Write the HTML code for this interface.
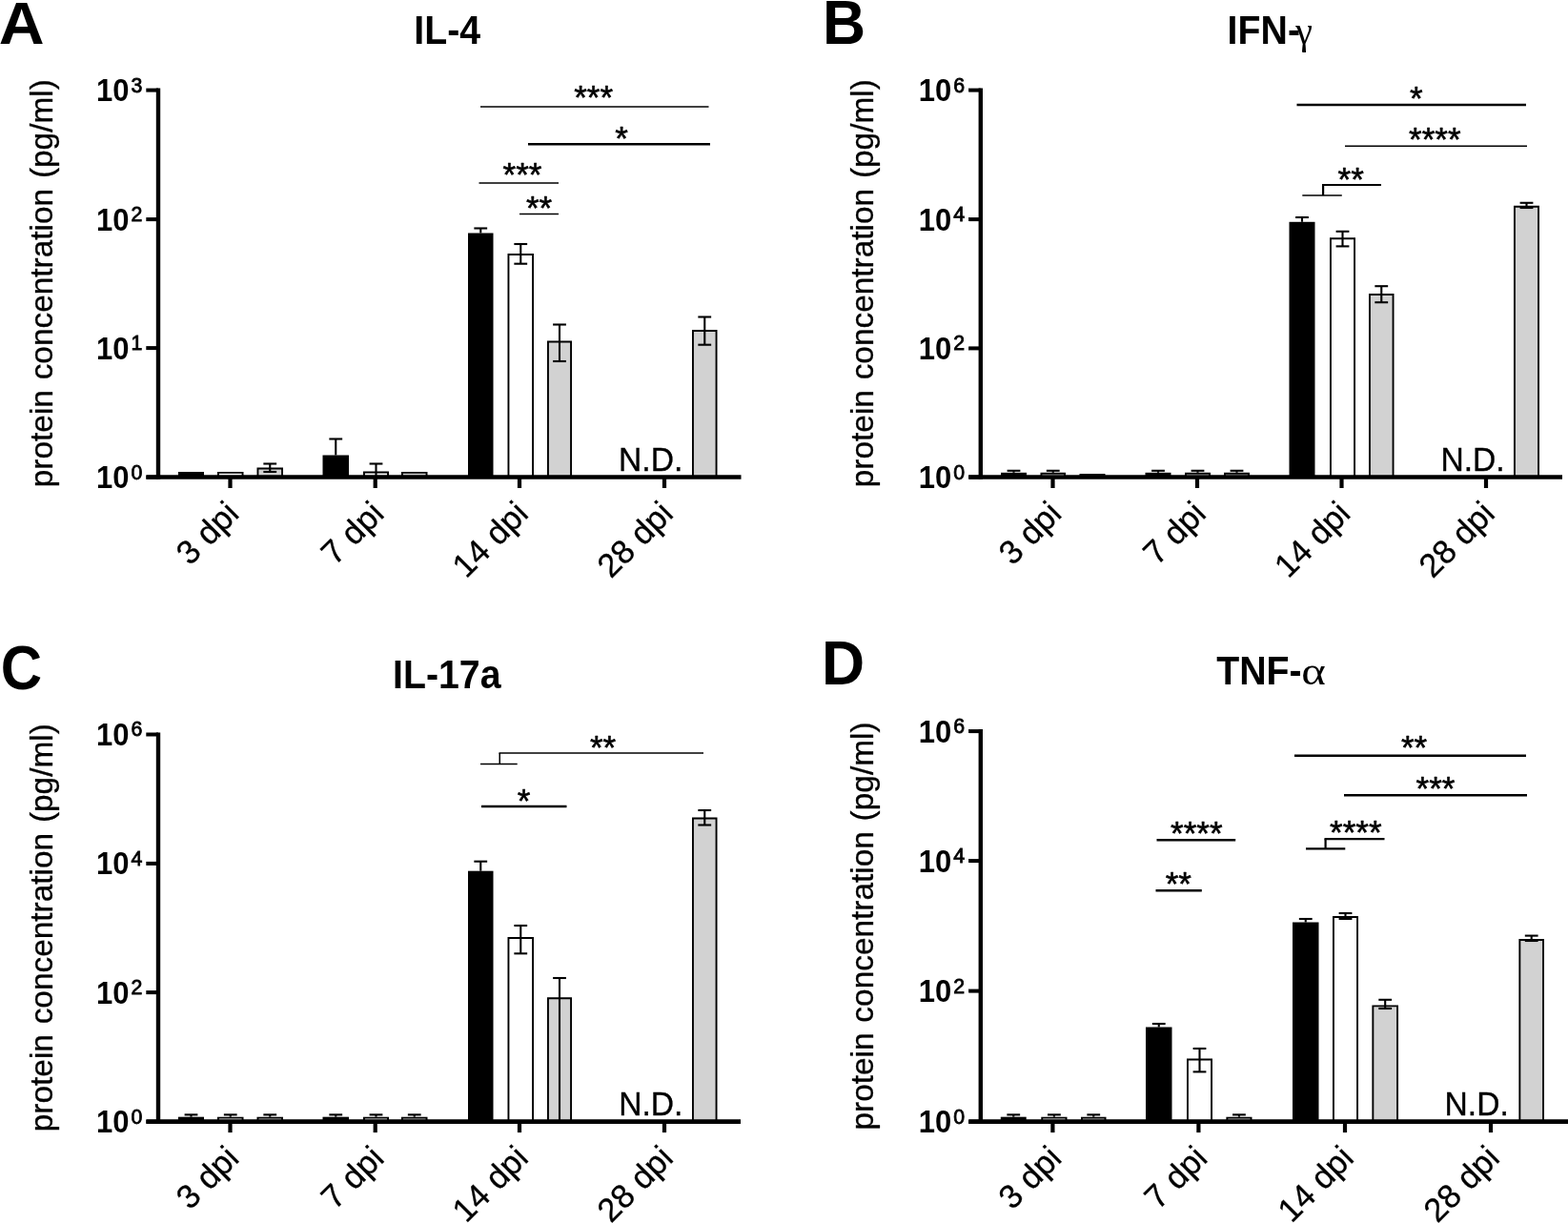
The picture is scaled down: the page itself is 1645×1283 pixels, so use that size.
<!DOCTYPE html>
<html lang="en"><head><meta charset="utf-8"><title>Cytokine protein concentrations</title>
<style>html,body{margin:0;padding:0;background:#fff}body{width:1645px;height:1283px;overflow:hidden}svg{display:block}text{fill:#000}</style>
</head><body>
<svg width="1645" height="1283" viewBox="0 0 1645 1283" font-family='"Liberation Sans", Arial, Helvetica, sans-serif'>
<rect width="1645" height="1283" fill="#fff"/>
<g id="panelA">
<text transform="translate(-1.3,45.8) scale(1.06,1.02)" font-size="62.5" font-weight="700" text-anchor="start">A</text>
<text transform="translate(469.2,45.8) scale(1,1.065)" font-size="39.3" font-weight="700" text-anchor="middle">IL-4</text>
<rect x="187" y="495" width="27" height="5.5" fill="#000"/>
<path d="M228.95 500.5V495.85H254.55V500.5" fill="#fff" stroke="#000" stroke-width="1.9" stroke-linejoin="miter"/>
<path d="M270.45 500.5V491.45H296.05V500.5" fill="#d2d2d2" stroke="#000" stroke-width="1.9" stroke-linejoin="miter"/>
<line x1="283.25" y1="486.5" x2="283.25" y2="495" stroke="#000" stroke-width="2.1" stroke-linecap="butt"/>
<line x1="276.35" y1="486.5" x2="290.15" y2="486.5" stroke="#000" stroke-width="2.1" stroke-linecap="butt"/>
<line x1="276.35" y1="495" x2="290.15" y2="495" stroke="#000" stroke-width="2.1" stroke-linecap="butt"/>
<rect x="338.5" y="477.5" width="27.5" height="23" fill="#000"/>
<line x1="352.25" y1="460.5" x2="352.25" y2="477.5" stroke="#000" stroke-width="2.1" stroke-linecap="butt"/>
<line x1="345.35" y1="460.5" x2="359.15" y2="460.5" stroke="#000" stroke-width="2.1" stroke-linecap="butt"/>
<path d="M381.95 500.5V495.45H407.05V500.5" fill="#fff" stroke="#000" stroke-width="1.9" stroke-linejoin="miter"/>
<line x1="394.5" y1="486.5" x2="394.5" y2="500" stroke="#000" stroke-width="2.1" stroke-linecap="butt"/>
<line x1="387.6" y1="486.5" x2="401.4" y2="486.5" stroke="#000" stroke-width="2.1" stroke-linecap="butt"/>
<path d="M421.95 500.5V495.85H447.55V500.5" fill="#d2d2d2" stroke="#000" stroke-width="1.9" stroke-linejoin="miter"/>
<rect x="491" y="244.5" width="26.5" height="256" fill="#000"/>
<line x1="504.25" y1="239.5" x2="504.25" y2="244.5" stroke="#000" stroke-width="2.1" stroke-linecap="butt"/>
<line x1="497.35" y1="239.5" x2="511.15" y2="239.5" stroke="#000" stroke-width="2.1" stroke-linecap="butt"/>
<path d="M533.45 500.5V266.95H559.05V500.5" fill="#fff" stroke="#000" stroke-width="1.9" stroke-linejoin="miter"/>
<line x1="546.25" y1="256" x2="546.25" y2="276.7" stroke="#000" stroke-width="2.1" stroke-linecap="butt"/>
<line x1="539.35" y1="256" x2="553.15" y2="256" stroke="#000" stroke-width="2.1" stroke-linecap="butt"/>
<line x1="539.35" y1="276.7" x2="553.15" y2="276.7" stroke="#000" stroke-width="2.1" stroke-linecap="butt"/>
<path d="M574.95 500.5V358.45H599.05V500.5" fill="#d2d2d2" stroke="#000" stroke-width="1.9" stroke-linejoin="miter"/>
<line x1="587" y1="340.5" x2="587" y2="379" stroke="#000" stroke-width="2.1" stroke-linecap="butt"/>
<line x1="580.1" y1="340.5" x2="593.9" y2="340.5" stroke="#000" stroke-width="2.1" stroke-linecap="butt"/>
<line x1="580.1" y1="379" x2="593.9" y2="379" stroke="#000" stroke-width="2.1" stroke-linecap="butt"/>
<path d="M726.95 500.5V346.95H751.55V500.5" fill="#d2d2d2" stroke="#000" stroke-width="1.9" stroke-linejoin="miter"/>
<line x1="739.25" y1="332.5" x2="739.25" y2="361.7" stroke="#000" stroke-width="2.1" stroke-linecap="butt"/>
<line x1="732.35" y1="332.5" x2="746.15" y2="332.5" stroke="#000" stroke-width="2.1" stroke-linecap="butt"/>
<line x1="732.35" y1="361.7" x2="746.15" y2="361.7" stroke="#000" stroke-width="2.1" stroke-linecap="butt"/>
<line x1="166" y1="92.6" x2="166" y2="502.75" stroke="#000" stroke-width="4.4" stroke-linecap="butt"/>
<line x1="153.3" y1="94.6" x2="166" y2="94.6" stroke="#000" stroke-width="4" stroke-linecap="butt"/>
<line x1="153.3" y1="230.1" x2="166" y2="230.1" stroke="#000" stroke-width="4" stroke-linecap="butt"/>
<line x1="153.3" y1="365.1" x2="166" y2="365.1" stroke="#000" stroke-width="4" stroke-linecap="butt"/>
<line x1="153.3" y1="500.6" x2="166" y2="500.6" stroke="#000" stroke-width="4" stroke-linecap="butt"/>
<line x1="153.5" y1="500.5" x2="777.5" y2="500.5" stroke="#000" stroke-width="4.6" stroke-linecap="butt"/>
<line x1="241.5" y1="500.5" x2="241.5" y2="512" stroke="#000" stroke-width="4.2" stroke-linecap="butt"/>
<line x1="393.7" y1="500.5" x2="393.7" y2="512" stroke="#000" stroke-width="4.2" stroke-linecap="butt"/>
<line x1="545" y1="500.5" x2="545" y2="512" stroke="#000" stroke-width="4.2" stroke-linecap="butt"/>
<line x1="697" y1="500.5" x2="697" y2="512" stroke="#000" stroke-width="4.2" stroke-linecap="butt"/>
<text transform="translate(135.5,106) scale(1,1.08)" font-size="31" font-weight="700" text-anchor="end">10</text>
<text transform="translate(137.5,96.5) scale(1,1.04)" font-size="21.3" text-anchor="start" stroke="#000" stroke-width="0.8">3</text>
<text transform="translate(135.5,241.5) scale(1,1.08)" font-size="31" font-weight="700" text-anchor="end">10</text>
<text transform="translate(137.5,232) scale(1,1.04)" font-size="21.3" text-anchor="start" stroke="#000" stroke-width="0.8">2</text>
<text transform="translate(135.5,376.5) scale(1,1.08)" font-size="31" font-weight="700" text-anchor="end">10</text>
<text transform="translate(137.5,367) scale(1,1.04)" font-size="21.3" text-anchor="start" stroke="#000" stroke-width="0.8">1</text>
<text transform="translate(135.5,512) scale(1,1.08)" font-size="31" font-weight="700" text-anchor="end">10</text>
<text transform="translate(137.5,502.5) scale(1,1.04)" font-size="21.3" text-anchor="start" stroke="#000" stroke-width="0.8">0</text>
<text transform="translate(55.3,297.2) rotate(-90)" font-size="33.4" word-spacing="1.5" text-anchor="middle" stroke="#000" stroke-width="0.3">protein concentration (pg/ml)</text>
<text transform="translate(252.5,540.8) rotate(-45)" font-size="34.8" text-anchor="end" stroke="#000" stroke-width="0.3">3 dpi</text>
<text transform="translate(404.7,540.8) rotate(-45)" font-size="34.8" text-anchor="end" stroke="#000" stroke-width="0.3">7 dpi</text>
<text transform="translate(556,540.8) rotate(-45)" font-size="34.8" text-anchor="end" stroke="#000" stroke-width="0.3">14 dpi</text>
<text transform="translate(708,540.8) rotate(-45)" font-size="34.8" text-anchor="end" stroke="#000" stroke-width="0.3">28 dpi</text>
<text transform="translate(682.7,494.1) scale(1,1.035)" font-size="33.6" text-anchor="middle" stroke="#000" stroke-width="0.35">N.D.</text>
<line x1="504" y1="112" x2="743.5" y2="112" stroke="#000" stroke-width="1.5" stroke-linecap="butt"/>
<text x="622.7" y="114.1" font-size="35" text-anchor="middle" stroke="#000" stroke-width="0.6" stroke-linejoin="round">***</text>
<line x1="554" y1="151.2" x2="745" y2="151.2" stroke="#000" stroke-width="2.4" stroke-linecap="butt"/>
<text x="652" y="157.1" font-size="35" text-anchor="middle" stroke="#000" stroke-width="0.6" stroke-linejoin="round">*</text>
<line x1="502.5" y1="192" x2="586" y2="192" stroke="#000" stroke-width="1.5" stroke-linecap="butt"/>
<text x="548" y="195.1" font-size="35" text-anchor="middle" stroke="#000" stroke-width="0.6" stroke-linejoin="round">***</text>
<line x1="545" y1="224.5" x2="586" y2="224.5" stroke="#000" stroke-width="1.5" stroke-linecap="butt"/>
<text x="565.5" y="230.1" font-size="35" text-anchor="middle" stroke="#000" stroke-width="0.6" stroke-linejoin="round">**</text>
</g>
<g id="panelB">
<text transform="translate(863,45.8) scale(1,1.035)" font-size="62.5" font-weight="700" text-anchor="start">B</text>
<text transform="translate(1287.6,45.8) scale(1,1.065)" font-size="39.3" font-weight="700" text-anchor="start">IFN-</text>
<text x="1359.3" y="45.8" font-size="40" text-anchor="start" font-family='"Liberation Serif", "Times New Roman", serif'>γ</text>
<rect x="1050" y="495.8" width="27" height="4.7" fill="#000"/>
<line x1="1063.5" y1="493.8" x2="1063.5" y2="495.8" stroke="#000" stroke-width="2.1" stroke-linecap="butt"/>
<line x1="1056.6" y1="493.8" x2="1070.4" y2="493.8" stroke="#000" stroke-width="2.1" stroke-linecap="butt"/>
<path d="M1092.45 500.5V496.75H1117.05V500.5" fill="#fff" stroke="#000" stroke-width="1.9" stroke-linejoin="miter"/>
<line x1="1104.75" y1="493.8" x2="1104.75" y2="495.8" stroke="#000" stroke-width="2.1" stroke-linecap="butt"/>
<line x1="1097.85" y1="493.8" x2="1111.65" y2="493.8" stroke="#000" stroke-width="2.1" stroke-linecap="butt"/>
<path d="M1133.45 500.5V497.95H1158.55V500.5" fill="#d2d2d2" stroke="#000" stroke-width="1.9" stroke-linejoin="miter"/>
<rect x="1201.5" y="495.8" width="27" height="4.7" fill="#000"/>
<line x1="1215" y1="493.8" x2="1215" y2="495.8" stroke="#000" stroke-width="2.1" stroke-linecap="butt"/>
<line x1="1208.1" y1="493.8" x2="1221.9" y2="493.8" stroke="#000" stroke-width="2.1" stroke-linecap="butt"/>
<path d="M1243.95 500.5V496.75H1269.05V500.5" fill="#fff" stroke="#000" stroke-width="1.9" stroke-linejoin="miter"/>
<line x1="1256.5" y1="493.8" x2="1256.5" y2="495.8" stroke="#000" stroke-width="2.1" stroke-linecap="butt"/>
<line x1="1249.6" y1="493.8" x2="1263.4" y2="493.8" stroke="#000" stroke-width="2.1" stroke-linecap="butt"/>
<path d="M1284.95 500.5V496.75H1310.05V500.5" fill="#d2d2d2" stroke="#000" stroke-width="1.9" stroke-linejoin="miter"/>
<line x1="1297.5" y1="493.8" x2="1297.5" y2="495.8" stroke="#000" stroke-width="2.1" stroke-linecap="butt"/>
<line x1="1290.6" y1="493.8" x2="1304.4" y2="493.8" stroke="#000" stroke-width="2.1" stroke-linecap="butt"/>
<rect x="1352.5" y="232.8" width="27" height="267.7" fill="#000"/>
<line x1="1366" y1="228" x2="1366" y2="232.8" stroke="#000" stroke-width="2.1" stroke-linecap="butt"/>
<line x1="1359.1" y1="228" x2="1372.9" y2="228" stroke="#000" stroke-width="2.1" stroke-linecap="butt"/>
<path d="M1395.95 500.5V250.25H1421.05V500.5" fill="#fff" stroke="#000" stroke-width="1.9" stroke-linejoin="miter"/>
<line x1="1408.5" y1="242.8" x2="1408.5" y2="258.4" stroke="#000" stroke-width="2.1" stroke-linecap="butt"/>
<line x1="1401.6" y1="242.8" x2="1415.4" y2="242.8" stroke="#000" stroke-width="2.1" stroke-linecap="butt"/>
<line x1="1401.6" y1="258.4" x2="1415.4" y2="258.4" stroke="#000" stroke-width="2.1" stroke-linecap="butt"/>
<path d="M1436.95 500.5V308.95H1461.55V500.5" fill="#d2d2d2" stroke="#000" stroke-width="1.9" stroke-linejoin="miter"/>
<line x1="1449.25" y1="300.2" x2="1449.25" y2="317.2" stroke="#000" stroke-width="2.1" stroke-linecap="butt"/>
<line x1="1442.35" y1="300.2" x2="1456.15" y2="300.2" stroke="#000" stroke-width="2.1" stroke-linecap="butt"/>
<line x1="1442.35" y1="317.2" x2="1456.15" y2="317.2" stroke="#000" stroke-width="2.1" stroke-linecap="butt"/>
<path d="M1588.95 500.5V216.75H1614.05V500.5" fill="#d2d2d2" stroke="#000" stroke-width="1.9" stroke-linejoin="miter"/>
<line x1="1601.5" y1="212.8" x2="1601.5" y2="218" stroke="#000" stroke-width="2.1" stroke-linecap="butt"/>
<line x1="1594.6" y1="212.8" x2="1608.4" y2="212.8" stroke="#000" stroke-width="2.1" stroke-linecap="butt"/>
<line x1="1594.6" y1="218" x2="1608.4" y2="218" stroke="#000" stroke-width="2.1" stroke-linecap="butt"/>
<line x1="1028.8" y1="92.6" x2="1028.8" y2="502.75" stroke="#000" stroke-width="4.4" stroke-linecap="butt"/>
<line x1="1016.1" y1="94.6" x2="1028.8" y2="94.6" stroke="#000" stroke-width="4" stroke-linecap="butt"/>
<line x1="1016.1" y1="230.1" x2="1028.8" y2="230.1" stroke="#000" stroke-width="4" stroke-linecap="butt"/>
<line x1="1016.1" y1="365.4" x2="1028.8" y2="365.4" stroke="#000" stroke-width="4" stroke-linecap="butt"/>
<line x1="1016.1" y1="500.6" x2="1028.8" y2="500.6" stroke="#000" stroke-width="4" stroke-linecap="butt"/>
<line x1="1016.3" y1="500.5" x2="1639" y2="500.5" stroke="#000" stroke-width="4.6" stroke-linecap="butt"/>
<line x1="1104.5" y1="500.5" x2="1104.5" y2="512" stroke="#000" stroke-width="4.2" stroke-linecap="butt"/>
<line x1="1256" y1="500.5" x2="1256" y2="512" stroke="#000" stroke-width="4.2" stroke-linecap="butt"/>
<line x1="1407.5" y1="500.5" x2="1407.5" y2="512" stroke="#000" stroke-width="4.2" stroke-linecap="butt"/>
<line x1="1559" y1="500.5" x2="1559" y2="512" stroke="#000" stroke-width="4.2" stroke-linecap="butt"/>
<text transform="translate(998.3,106) scale(1,1.08)" font-size="31" font-weight="700" text-anchor="end">10</text>
<text transform="translate(1000.3,96.5) scale(1,1.04)" font-size="21.3" text-anchor="start" stroke="#000" stroke-width="0.8">6</text>
<text transform="translate(998.3,241.5) scale(1,1.08)" font-size="31" font-weight="700" text-anchor="end">10</text>
<text transform="translate(1000.3,232) scale(1,1.04)" font-size="21.3" text-anchor="start" stroke="#000" stroke-width="0.8">4</text>
<text transform="translate(998.3,376.8) scale(1,1.08)" font-size="31" font-weight="700" text-anchor="end">10</text>
<text transform="translate(1000.3,367.3) scale(1,1.04)" font-size="21.3" text-anchor="start" stroke="#000" stroke-width="0.8">2</text>
<text transform="translate(998.3,512) scale(1,1.08)" font-size="31" font-weight="700" text-anchor="end">10</text>
<text transform="translate(1000.3,502.5) scale(1,1.04)" font-size="21.3" text-anchor="start" stroke="#000" stroke-width="0.8">0</text>
<text transform="translate(916,297.2) rotate(-90)" font-size="33.4" word-spacing="1.5" text-anchor="middle" stroke="#000" stroke-width="0.3">protein concentration (pg/ml)</text>
<text transform="translate(1115.5,540.8) rotate(-45)" font-size="34.8" text-anchor="end" stroke="#000" stroke-width="0.3">3 dpi</text>
<text transform="translate(1267,540.8) rotate(-45)" font-size="34.8" text-anchor="end" stroke="#000" stroke-width="0.3">7 dpi</text>
<text transform="translate(1418.5,540.8) rotate(-45)" font-size="34.8" text-anchor="end" stroke="#000" stroke-width="0.3">14 dpi</text>
<text transform="translate(1570,540.8) rotate(-45)" font-size="34.8" text-anchor="end" stroke="#000" stroke-width="0.3">28 dpi</text>
<text transform="translate(1545,494.4) scale(1,1.035)" font-size="33.6" text-anchor="middle" stroke="#000" stroke-width="0.35">N.D.</text>
<line x1="1360.5" y1="110" x2="1601" y2="110" stroke="#000" stroke-width="2.5" stroke-linecap="butt"/>
<text x="1485.8" y="115.4" font-size="35" text-anchor="middle" stroke="#000" stroke-width="0.6" stroke-linejoin="round">*</text>
<line x1="1411" y1="153.2" x2="1602" y2="153.2" stroke="#000" stroke-width="1.4" stroke-linecap="butt"/>
<text x="1505.3" y="157.9" font-size="35" text-anchor="middle" stroke="#000" stroke-width="0.6" stroke-linejoin="round">****</text>
<line x1="1387" y1="194" x2="1449" y2="194" stroke="#000" stroke-width="2.2" stroke-linecap="butt"/>
<line x1="1388.1" y1="194" x2="1388.1" y2="205" stroke="#000" stroke-width="2.2" stroke-linecap="butt"/>
<line x1="1366.3" y1="205" x2="1407.8" y2="205" stroke="#000" stroke-width="1.4" stroke-linecap="butt"/>
<text x="1417.2" y="199.7" font-size="35" text-anchor="middle" stroke="#000" stroke-width="0.6" stroke-linejoin="round">**</text>
</g>
<g id="panelC">
<text transform="translate(0.8,722.6) scale(0.96,1.035)" font-size="62.5" font-weight="700" text-anchor="start">C</text>
<text transform="translate(468.8,722) scale(1,1.065)" font-size="39.3" font-weight="700" text-anchor="middle">IL-17a</text>
<rect x="187" y="1171.7" width="27" height="4.9" fill="#000"/>
<line x1="200.5" y1="1169.4" x2="200.5" y2="1171.7" stroke="#000" stroke-width="2.1" stroke-linecap="butt"/>
<line x1="193.6" y1="1169.4" x2="207.4" y2="1169.4" stroke="#000" stroke-width="2.1" stroke-linecap="butt"/>
<path d="M228.95 1176.6V1172.65H254.55V1176.6" fill="#fff" stroke="#000" stroke-width="1.9" stroke-linejoin="miter"/>
<line x1="241.75" y1="1169.4" x2="241.75" y2="1171.7" stroke="#000" stroke-width="2.1" stroke-linecap="butt"/>
<line x1="234.85" y1="1169.4" x2="248.65" y2="1169.4" stroke="#000" stroke-width="2.1" stroke-linecap="butt"/>
<path d="M270.45 1176.6V1172.65H296.05V1176.6" fill="#d2d2d2" stroke="#000" stroke-width="1.9" stroke-linejoin="miter"/>
<line x1="283.25" y1="1169.4" x2="283.25" y2="1171.7" stroke="#000" stroke-width="2.1" stroke-linecap="butt"/>
<line x1="276.35" y1="1169.4" x2="290.15" y2="1169.4" stroke="#000" stroke-width="2.1" stroke-linecap="butt"/>
<rect x="338.5" y="1171.7" width="27.5" height="4.9" fill="#000"/>
<line x1="352.25" y1="1169.4" x2="352.25" y2="1171.7" stroke="#000" stroke-width="2.1" stroke-linecap="butt"/>
<line x1="345.35" y1="1169.4" x2="359.15" y2="1169.4" stroke="#000" stroke-width="2.1" stroke-linecap="butt"/>
<path d="M381.95 1176.6V1172.65H407.05V1176.6" fill="#fff" stroke="#000" stroke-width="1.9" stroke-linejoin="miter"/>
<line x1="394.5" y1="1169.4" x2="394.5" y2="1171.7" stroke="#000" stroke-width="2.1" stroke-linecap="butt"/>
<line x1="387.6" y1="1169.4" x2="401.4" y2="1169.4" stroke="#000" stroke-width="2.1" stroke-linecap="butt"/>
<path d="M421.95 1176.6V1172.65H447.55V1176.6" fill="#d2d2d2" stroke="#000" stroke-width="1.9" stroke-linejoin="miter"/>
<line x1="434.75" y1="1169.4" x2="434.75" y2="1171.7" stroke="#000" stroke-width="2.1" stroke-linecap="butt"/>
<line x1="427.85" y1="1169.4" x2="441.65" y2="1169.4" stroke="#000" stroke-width="2.1" stroke-linecap="butt"/>
<rect x="491" y="913.7" width="26.5" height="262.9" fill="#000"/>
<line x1="504.25" y1="903.7" x2="504.25" y2="913.7" stroke="#000" stroke-width="2.1" stroke-linecap="butt"/>
<line x1="497.35" y1="903.7" x2="511.15" y2="903.7" stroke="#000" stroke-width="2.1" stroke-linecap="butt"/>
<path d="M533.45 1176.6V983.95H559.05V1176.6" fill="#fff" stroke="#000" stroke-width="1.9" stroke-linejoin="miter"/>
<line x1="546.25" y1="971" x2="546.25" y2="1000.3" stroke="#000" stroke-width="2.1" stroke-linecap="butt"/>
<line x1="539.35" y1="971" x2="553.15" y2="971" stroke="#000" stroke-width="2.1" stroke-linecap="butt"/>
<line x1="539.35" y1="1000.3" x2="553.15" y2="1000.3" stroke="#000" stroke-width="2.1" stroke-linecap="butt"/>
<path d="M574.95 1176.6V1047.25H599.05V1176.6" fill="#d2d2d2" stroke="#000" stroke-width="1.9" stroke-linejoin="miter"/>
<line x1="587" y1="1026" x2="587" y2="1176" stroke="#000" stroke-width="2.1" stroke-linecap="butt"/>
<line x1="580.1" y1="1026" x2="593.9" y2="1026" stroke="#000" stroke-width="2.1" stroke-linecap="butt"/>
<path d="M726.95 1176.6V858.45H751.55V1176.6" fill="#d2d2d2" stroke="#000" stroke-width="1.9" stroke-linejoin="miter"/>
<line x1="739.25" y1="850" x2="739.25" y2="865.5" stroke="#000" stroke-width="2.1" stroke-linecap="butt"/>
<line x1="732.35" y1="850" x2="746.15" y2="850" stroke="#000" stroke-width="2.1" stroke-linecap="butt"/>
<line x1="732.35" y1="865.5" x2="746.15" y2="865.5" stroke="#000" stroke-width="2.1" stroke-linecap="butt"/>
<line x1="166" y1="768.5" x2="166" y2="1178.85" stroke="#000" stroke-width="4.4" stroke-linecap="butt"/>
<line x1="153.3" y1="770.5" x2="166" y2="770.5" stroke="#000" stroke-width="4" stroke-linecap="butt"/>
<line x1="153.3" y1="905.9" x2="166" y2="905.9" stroke="#000" stroke-width="4" stroke-linecap="butt"/>
<line x1="153.3" y1="1041.1" x2="166" y2="1041.1" stroke="#000" stroke-width="4" stroke-linecap="butt"/>
<line x1="153.3" y1="1176.7" x2="166" y2="1176.7" stroke="#000" stroke-width="4" stroke-linecap="butt"/>
<line x1="153.5" y1="1176.6" x2="777" y2="1176.6" stroke="#000" stroke-width="4.6" stroke-linecap="butt"/>
<line x1="241.5" y1="1176.6" x2="241.5" y2="1188.1" stroke="#000" stroke-width="4.2" stroke-linecap="butt"/>
<line x1="393.7" y1="1176.6" x2="393.7" y2="1188.1" stroke="#000" stroke-width="4.2" stroke-linecap="butt"/>
<line x1="545" y1="1176.6" x2="545" y2="1188.1" stroke="#000" stroke-width="4.2" stroke-linecap="butt"/>
<line x1="697" y1="1176.6" x2="697" y2="1188.1" stroke="#000" stroke-width="4.2" stroke-linecap="butt"/>
<text transform="translate(135.5,781.9) scale(1,1.08)" font-size="31" font-weight="700" text-anchor="end">10</text>
<text transform="translate(137.5,772.4) scale(1,1.04)" font-size="21.3" text-anchor="start" stroke="#000" stroke-width="0.8">6</text>
<text transform="translate(135.5,917.3) scale(1,1.08)" font-size="31" font-weight="700" text-anchor="end">10</text>
<text transform="translate(137.5,907.8) scale(1,1.04)" font-size="21.3" text-anchor="start" stroke="#000" stroke-width="0.8">4</text>
<text transform="translate(135.5,1052.5) scale(1,1.08)" font-size="31" font-weight="700" text-anchor="end">10</text>
<text transform="translate(137.5,1043) scale(1,1.04)" font-size="21.3" text-anchor="start" stroke="#000" stroke-width="0.8">2</text>
<text transform="translate(135.5,1188.1) scale(1,1.08)" font-size="31" font-weight="700" text-anchor="end">10</text>
<text transform="translate(137.5,1178.6) scale(1,1.04)" font-size="21.3" text-anchor="start" stroke="#000" stroke-width="0.8">0</text>
<text transform="translate(55.3,973.2) rotate(-90)" font-size="33.4" word-spacing="1.5" text-anchor="middle" stroke="#000" stroke-width="0.3">protein concentration (pg/ml)</text>
<text transform="translate(252.5,1216.9) rotate(-45)" font-size="34.8" text-anchor="end" stroke="#000" stroke-width="0.3">3 dpi</text>
<text transform="translate(404.7,1216.9) rotate(-45)" font-size="34.8" text-anchor="end" stroke="#000" stroke-width="0.3">7 dpi</text>
<text transform="translate(556,1216.9) rotate(-45)" font-size="34.8" text-anchor="end" stroke="#000" stroke-width="0.3">14 dpi</text>
<text transform="translate(708,1216.9) rotate(-45)" font-size="34.8" text-anchor="end" stroke="#000" stroke-width="0.3">28 dpi</text>
<text transform="translate(682.8,1170.1) scale(1,1.035)" font-size="33.6" text-anchor="middle" stroke="#000" stroke-width="0.35">N.D.</text>
<line x1="523.5" y1="790" x2="738" y2="790" stroke="#000" stroke-width="1.5" stroke-linecap="butt"/>
<line x1="524.25" y1="790" x2="524.25" y2="801.5" stroke="#000" stroke-width="1.5" stroke-linecap="butt"/>
<line x1="504" y1="801.5" x2="542.7" y2="801.5" stroke="#000" stroke-width="1.5" stroke-linecap="butt"/>
<text x="632.6" y="795.6" font-size="35" text-anchor="middle" stroke="#000" stroke-width="0.6" stroke-linejoin="round">**</text>
<line x1="505" y1="845.9" x2="594.5" y2="845.9" stroke="#000" stroke-width="2.5" stroke-linecap="butt"/>
<text x="549.5" y="851.8" font-size="35" text-anchor="middle" stroke="#000" stroke-width="0.6" stroke-linejoin="round">*</text>
</g>
<g id="panelD">
<text transform="translate(862,718) scale(1,1.035)" font-size="62.5" font-weight="700" text-anchor="start">D</text>
<text transform="translate(1276.2,717.7) scale(1,1.065)" font-size="39.3" font-weight="700" text-anchor="start">TNF-</text>
<text transform="translate(1365.2,717.9) scale(1.22,1.03)" font-size="40" text-anchor="start" font-family='"Liberation Serif", "Times New Roman", serif'>α</text>
<rect x="1049.8" y="1171.7" width="26.9" height="4.9" fill="#000"/>
<line x1="1063.25" y1="1169.4" x2="1063.25" y2="1171.7" stroke="#000" stroke-width="2.1" stroke-linecap="butt"/>
<line x1="1056.35" y1="1169.4" x2="1070.15" y2="1169.4" stroke="#000" stroke-width="2.1" stroke-linecap="butt"/>
<path d="M1093.25 1176.6V1172.65H1118.55V1176.6" fill="#fff" stroke="#000" stroke-width="1.9" stroke-linejoin="miter"/>
<line x1="1105.9" y1="1169.4" x2="1105.9" y2="1171.7" stroke="#000" stroke-width="2.1" stroke-linecap="butt"/>
<line x1="1099" y1="1169.4" x2="1112.8" y2="1169.4" stroke="#000" stroke-width="2.1" stroke-linecap="butt"/>
<path d="M1134.95 1176.6V1172.65H1159.55V1176.6" fill="#d2d2d2" stroke="#000" stroke-width="1.9" stroke-linejoin="miter"/>
<line x1="1147.25" y1="1169.4" x2="1147.25" y2="1171.7" stroke="#000" stroke-width="2.1" stroke-linecap="butt"/>
<line x1="1140.35" y1="1169.4" x2="1154.15" y2="1169.4" stroke="#000" stroke-width="2.1" stroke-linecap="butt"/>
<rect x="1202" y="1077.5" width="27.5" height="99.1" fill="#000"/>
<line x1="1215.75" y1="1074" x2="1215.75" y2="1077.5" stroke="#000" stroke-width="2.1" stroke-linecap="butt"/>
<line x1="1208.85" y1="1074" x2="1222.65" y2="1074" stroke="#000" stroke-width="2.1" stroke-linecap="butt"/>
<path d="M1245.95 1176.6V1111.45H1271.05V1176.6" fill="#fff" stroke="#000" stroke-width="1.9" stroke-linejoin="miter"/>
<line x1="1258.5" y1="1100" x2="1258.5" y2="1124.4" stroke="#000" stroke-width="2.1" stroke-linecap="butt"/>
<line x1="1251.6" y1="1100" x2="1265.4" y2="1100" stroke="#000" stroke-width="2.1" stroke-linecap="butt"/>
<line x1="1251.6" y1="1124.4" x2="1265.4" y2="1124.4" stroke="#000" stroke-width="2.1" stroke-linecap="butt"/>
<path d="M1287.35 1176.6V1172.65H1312.55V1176.6" fill="#d2d2d2" stroke="#000" stroke-width="1.9" stroke-linejoin="miter"/>
<line x1="1299.95" y1="1169.4" x2="1299.95" y2="1171.7" stroke="#000" stroke-width="2.1" stroke-linecap="butt"/>
<line x1="1293.05" y1="1169.4" x2="1306.85" y2="1169.4" stroke="#000" stroke-width="2.1" stroke-linecap="butt"/>
<rect x="1356" y="967.5" width="27.5" height="209.1" fill="#000"/>
<line x1="1369.75" y1="964" x2="1369.75" y2="967.5" stroke="#000" stroke-width="2.1" stroke-linecap="butt"/>
<line x1="1362.85" y1="964" x2="1376.65" y2="964" stroke="#000" stroke-width="2.1" stroke-linecap="butt"/>
<path d="M1398.95 1176.6V961.95H1424.05V1176.6" fill="#fff" stroke="#000" stroke-width="1.9" stroke-linejoin="miter"/>
<line x1="1411.5" y1="958" x2="1411.5" y2="964" stroke="#000" stroke-width="2.1" stroke-linecap="butt"/>
<line x1="1404.6" y1="958" x2="1418.4" y2="958" stroke="#000" stroke-width="2.1" stroke-linecap="butt"/>
<line x1="1404.6" y1="964" x2="1418.4" y2="964" stroke="#000" stroke-width="2.1" stroke-linecap="butt"/>
<path d="M1440.35 1176.6V1055.35H1466.05V1176.6" fill="#d2d2d2" stroke="#000" stroke-width="1.9" stroke-linejoin="miter"/>
<line x1="1453.2" y1="1048.8" x2="1453.2" y2="1058" stroke="#000" stroke-width="2.1" stroke-linecap="butt"/>
<line x1="1446.3" y1="1048.8" x2="1460.1" y2="1048.8" stroke="#000" stroke-width="2.1" stroke-linecap="butt"/>
<line x1="1446.3" y1="1058" x2="1460.1" y2="1058" stroke="#000" stroke-width="2.1" stroke-linecap="butt"/>
<path d="M1594.35 1176.6V985.95H1619.05V1176.6" fill="#d2d2d2" stroke="#000" stroke-width="1.9" stroke-linejoin="miter"/>
<line x1="1606.7" y1="981.6" x2="1606.7" y2="987" stroke="#000" stroke-width="2.1" stroke-linecap="butt"/>
<line x1="1599.8" y1="981.6" x2="1613.6" y2="981.6" stroke="#000" stroke-width="2.1" stroke-linecap="butt"/>
<line x1="1599.8" y1="987" x2="1613.6" y2="987" stroke="#000" stroke-width="2.1" stroke-linecap="butt"/>
<line x1="1028.8" y1="765.1" x2="1028.8" y2="1178.85" stroke="#000" stroke-width="4.4" stroke-linecap="butt"/>
<line x1="1016.1" y1="767.1" x2="1028.8" y2="767.1" stroke="#000" stroke-width="4" stroke-linecap="butt"/>
<line x1="1016.1" y1="903.1" x2="1028.8" y2="903.1" stroke="#000" stroke-width="4" stroke-linecap="butt"/>
<line x1="1016.1" y1="1039.6" x2="1028.8" y2="1039.6" stroke="#000" stroke-width="4" stroke-linecap="butt"/>
<line x1="1016.1" y1="1176.7" x2="1028.8" y2="1176.7" stroke="#000" stroke-width="4" stroke-linecap="butt"/>
<line x1="1016.3" y1="1176.6" x2="1645" y2="1176.6" stroke="#000" stroke-width="4.6" stroke-linecap="butt"/>
<line x1="1104.4" y1="1176.6" x2="1104.4" y2="1188.1" stroke="#000" stroke-width="4.2" stroke-linecap="butt"/>
<line x1="1257.4" y1="1176.6" x2="1257.4" y2="1188.1" stroke="#000" stroke-width="4.2" stroke-linecap="butt"/>
<line x1="1411" y1="1176.6" x2="1411" y2="1188.1" stroke="#000" stroke-width="4.2" stroke-linecap="butt"/>
<line x1="1564" y1="1176.6" x2="1564" y2="1188.1" stroke="#000" stroke-width="4.2" stroke-linecap="butt"/>
<text transform="translate(998.3,778.5) scale(1,1.08)" font-size="31" font-weight="700" text-anchor="end">10</text>
<text transform="translate(1000.3,769) scale(1,1.04)" font-size="21.3" text-anchor="start" stroke="#000" stroke-width="0.8">6</text>
<text transform="translate(998.3,914.5) scale(1,1.08)" font-size="31" font-weight="700" text-anchor="end">10</text>
<text transform="translate(1000.3,905) scale(1,1.04)" font-size="21.3" text-anchor="start" stroke="#000" stroke-width="0.8">4</text>
<text transform="translate(998.3,1051) scale(1,1.08)" font-size="31" font-weight="700" text-anchor="end">10</text>
<text transform="translate(1000.3,1041.5) scale(1,1.04)" font-size="21.3" text-anchor="start" stroke="#000" stroke-width="0.8">2</text>
<text transform="translate(998.3,1188.1) scale(1,1.08)" font-size="31" font-weight="700" text-anchor="end">10</text>
<text transform="translate(1000.3,1178.6) scale(1,1.04)" font-size="21.3" text-anchor="start" stroke="#000" stroke-width="0.8">0</text>
<text transform="translate(916,971.5) rotate(-90)" font-size="33.4" word-spacing="1.5" text-anchor="middle" stroke="#000" stroke-width="0.3">protein concentration (pg/ml)</text>
<text transform="translate(1115.4,1216.9) rotate(-45)" font-size="34.8" text-anchor="end" stroke="#000" stroke-width="0.3">3 dpi</text>
<text transform="translate(1268.4,1216.9) rotate(-45)" font-size="34.8" text-anchor="end" stroke="#000" stroke-width="0.3">7 dpi</text>
<text transform="translate(1422,1216.9) rotate(-45)" font-size="34.8" text-anchor="end" stroke="#000" stroke-width="0.3">14 dpi</text>
<text transform="translate(1575,1216.9) rotate(-45)" font-size="34.8" text-anchor="end" stroke="#000" stroke-width="0.3">28 dpi</text>
<text transform="translate(1549.2,1170.1) scale(1,1.035)" font-size="33.6" text-anchor="middle" stroke="#000" stroke-width="0.35">N.D.</text>
<line x1="1358" y1="792.8" x2="1601" y2="792.8" stroke="#000" stroke-width="2.4" stroke-linecap="butt"/>
<text x="1483.5" y="796.1" font-size="35" text-anchor="middle" stroke="#000" stroke-width="0.6" stroke-linejoin="round">**</text>
<line x1="1410" y1="834.3" x2="1602" y2="834.3" stroke="#000" stroke-width="2.4" stroke-linecap="butt"/>
<text x="1506" y="838.7" font-size="35" text-anchor="middle" stroke="#000" stroke-width="0.6" stroke-linejoin="round">***</text>
<line x1="1213.5" y1="881.2" x2="1296.2" y2="881.2" stroke="#000" stroke-width="2.4" stroke-linecap="butt"/>
<text x="1255.3" y="885.8" font-size="35" text-anchor="middle" stroke="#000" stroke-width="0.6" stroke-linejoin="round">****</text>
<line x1="1212.5" y1="934.2" x2="1260.8" y2="934.2" stroke="#000" stroke-width="2.4" stroke-linecap="butt"/>
<text x="1236.3" y="939.1" font-size="35" text-anchor="middle" stroke="#000" stroke-width="0.6" stroke-linejoin="round">**</text>
<line x1="1389.5" y1="880.2" x2="1452.5" y2="880.2" stroke="#000" stroke-width="2.2" stroke-linecap="butt"/>
<line x1="1390.6" y1="880.2" x2="1390.6" y2="890.3" stroke="#000" stroke-width="2.2" stroke-linecap="butt"/>
<line x1="1370" y1="890.3" x2="1411.3" y2="890.3" stroke="#000" stroke-width="2.2" stroke-linecap="butt"/>
<text x="1422.3" y="884.6" font-size="35" text-anchor="middle" stroke="#000" stroke-width="0.6" stroke-linejoin="round">****</text>
</g>
</svg></body></html>
